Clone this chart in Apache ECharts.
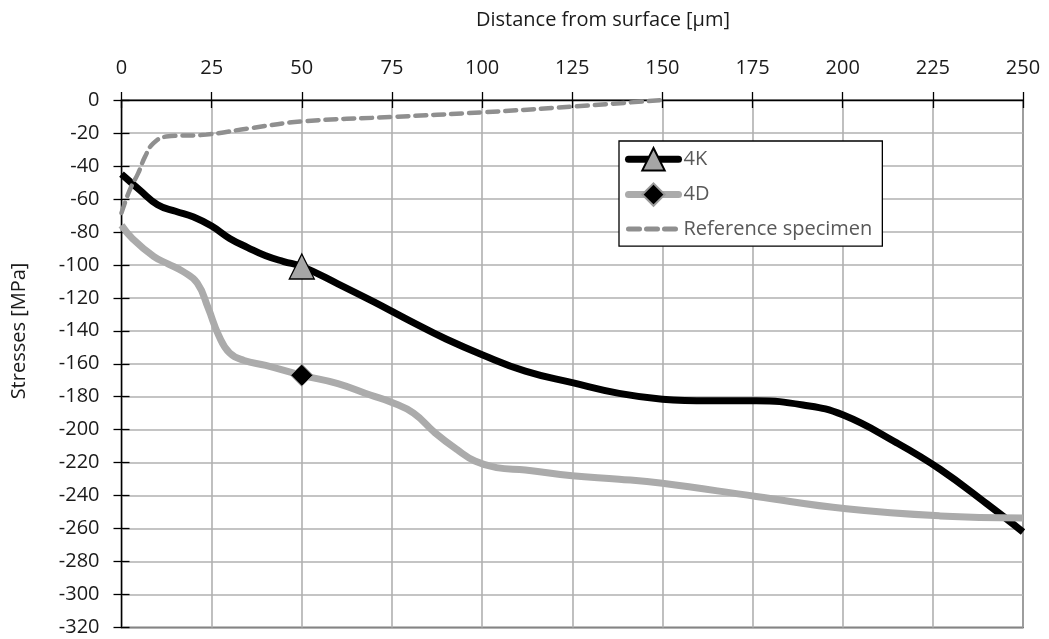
<!DOCTYPE html>
<html>
<head>
<meta charset="utf-8">
<script src="https://cdn.jsdelivr.net/npm/echarts@6/dist/echarts.min.js"></script>
<style>
  html, body { margin: 0; padding: 0; background: #fff; }
  #chart { width: 1049px; height: 639px; }
</style>
</head>
<body>
<div id="chart"></div>
<script>
// 数据
var k4X = [0, 5, 10, 15, 20, 25, 30, 35, 40, 45, 50, 60, 70, 80, 90, 100, 112, 125, 138, 150, 163, 176, 189, 200, 215, 227, 240, 250];
var k4Y = [-45, -54.5, -63.5, -67.5, -71, -76.5, -84, -89.5, -94.5, -98, -101, -111.5, -122.5, -134, -145, -154.5, -164.5, -171.5, -178, -181.5, -182.5, -182.5, -185, -191, -208, -224, -245, -262];

var d4X = [0, 3, 9, 13, 17, 21, 24, 27, 30, 34, 40, 50, 60, 69, 75, 81, 87, 93, 98, 104, 112, 125, 138, 150, 176, 201, 227, 250];
var d4Y = [-76, -84, -95, -99.5, -104, -111, -126, -143, -153.5, -158, -161, -167, -172, -179, -183.5, -190, -202, -212, -219, -223, -224.5, -228, -230, -232.5, -240.5, -248, -252.3, -253.5];

var refX = [0, 2.3, 4.6, 6.5, 8.8, 12.4, 23.5, 36, 50, 75, 100, 125, 150];
var refY = [-68.5, -54.5, -44.5, -34.5, -26.3, -22.2, -21, -17, -13, -10.3, -7.5, -4, 0];

var markAt = 50; // 只在50处画标记
var xTicks = { min: 0, max: 250, step: 25 };
var yTicks = { min: -320, max: 0, step: 20 };

var FONT = 'Open Sans';

function toPairs(xs, ys, symbol, size) {
	var out = [];
	for (var i = 0; i < xs.length; i++) {
		if (symbol && xs[i] === markAt) {
			out.push({ value: [xs[i], ys[i]], symbol: symbol, symbolSize: size });
		} else {
			out.push({ value: [xs[i], ys[i]], symbol: 'none' });
		}
	}
	return out;
}

var myChart = echarts.init(document.getElementById('chart'), null, { renderer: 'canvas' });

var axisBase = {
	type: 'value',
	axisLine: { show: true, onZero: false, lineStyle: { color: '#000', width: 1.3 } },
	axisTick: { show: true, length: 8, lineStyle: { color: '#000', width: 1.3 } },
	axisLabel: { color: '#1a1a1a', fontSize: 20, fontFamily: FONT, margin: 22 },
	splitLine: { show: true, lineStyle: { color: '#b0b0b0', width: 1.6 } }
};

function innerTicks(base) {
	return echarts.util.merge(echarts.util.clone(base), {
		axisLine: { show: false },
		axisLabel: { show: false },
		splitLine: { show: false },
		axisTick: { inside: true }
	}, true);
}

var xMain = echarts.util.merge(echarts.util.clone(axisBase), {
	position: 'top', min: xTicks.min, max: xTicks.max, interval: xTicks.step
}, true);
var yMain = echarts.util.merge(echarts.util.clone(axisBase), {
	position: 'left', min: yTicks.min, max: yTicks.max, interval: yTicks.step
}, true);

option = {
	animation: false,
	backgroundColor: '#fff',
	textStyle: { fontFamily: FONT },
	grid: {
		left: 121.5, right: 26, top: 100, bottom: 11.5,
		show: true, borderColor: '#000', borderWidth: 1.3
	},
	xAxis: [xMain, innerTicks(xMain)],
	yAxis: [yMain, innerTicks(yMain)],
	graphic: [{
		type: 'text', x: 603, y: 20,
		style: { text: 'Distance from surface [μm]', font: '20px "Open Sans"', fill: '#1a1a1a', textAlign: 'center', textVerticalAlign: 'middle' }
	}, {
		type: 'text', x: 19, y: 331, rotation: Math.PI / 2,
		style: { text: 'Stresses [MPa]', font: '20px "Open Sans"', fill: '#1a1a1a', textAlign: 'center', textVerticalAlign: 'middle' }
	}],
	legend: {
		orient: 'vertical',
		left: 619, top: 141,
		padding: [6, 10, 6, 6],
		itemWidth: 50, itemHeight: 28, itemGap: 11,
		borderColor: '#000', borderWidth: 1.3,
		backgroundColor: '#fff',
		textStyle: { color: '#595959', fontSize: 20, fontFamily: FONT },
		data: [
			{ name: '4K', lineStyle: { width: 7, cap: 'round' } },
			{ name: '4D', lineStyle: { width: 7, cap: 'round' } },
			{ name: 'Reference specimen', lineStyle: { width: 5, cap: 'round' }, itemStyle: { opacity: 0 } }
		]
	},
	series: [{
		name: '4K', type: 'line',
		smooth: 0.45,
		symbol: 'triangle', symbolSize: 24,
		xAxisIndex: 0, yAxisIndex: 0,
		lineStyle: { color: '#000', width: 7 },
		itemStyle: { color: '#a6a6a6', borderColor: '#000', borderWidth: 1.3 },
		data: toPairs(k4X, k4Y, 'triangle', 25)
	}, {
		name: '4D', type: 'line',
		smooth: 0.45,
		symbol: 'diamond', symbolSize: 22,
		xAxisIndex: 0, yAxisIndex: 0,
		lineStyle: { color: '#ababab', width: 7 },
		itemStyle: { color: '#000', borderColor: '#9a9a9a', borderWidth: 1 },
		data: toPairs(d4X, d4Y, 'diamond', 22)
	}, {
		name: 'Reference specimen', type: 'line',
		smooth: 0.45,
		symbol: 'none',
		xAxisIndex: 0, yAxisIndex: 0,
		lineStyle: { color: '#8f8f8f', width: 4.5, type: [11, 7], cap: 'round' },
		itemStyle: { color: '#8f8f8f' },
		data: toPairs(refX, refY, null, 0)
	}]
};

myChart.setOption(option);
</script>
</body>
</html>
